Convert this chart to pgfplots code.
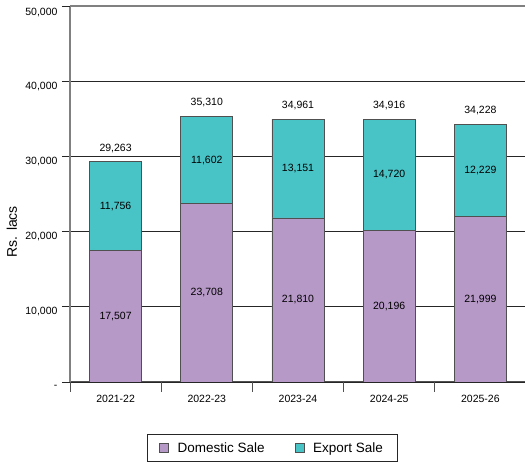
\documentclass[border=0pt]{standalone}
\usepackage{pgfplots}
\usepackage{pgfplotstable}
\pgfplotsset{compat=1.18}
\usepackage{fontspec}
\setmainfont{Liberation Sans}
\definecolor{dom}{HTML}{B799C8}
\definecolor{expc}{HTML}{48C3C6}
\definecolor{edge}{HTML}{505050}
\pgfplotstableread{
x dom exp
0 17507 11756
1 23708 11602
2 21810 13151
3 20196 14720
4 21999 12229
}\salesdata
\tikzset{lbl/.style={font=\fontsize{10.5}{12}\selectfont, text=black}}
\pgfplotsset{geom/.style={at={(0,0)}, anchor=south west,
  scale only axis, width=456pt, height=376pt,
  xmin=-0.5, xmax=4.5, ymin=0, ymax=50000}}
\begin{document}
\begin{tikzpicture}
\useasboundingbox (-70pt,-80pt) rectangle (455pt,382pt);
\begin{axis}[
  geom,
  ybar stacked, bar width=52pt,
  axis x line*=bottom, axis y line*=left,
  x axis line style={draw=edge, line width=1pt},
  y axis line style={draw=gray, line width=1.3pt},
  ymajorgrids, grid style={draw=black!85, line width=0.8pt},
  ytick={0,10000,20000,30000,40000},
  yticklabels={{-},{10,000},{20,000},{30,000},{40,000}},
  extra y ticks={50000}, extra y tick labels={50{,}000},
  extra y tick style={grid style={draw=gray, line width=2pt}, yticklabel style={yshift=-1.5pt}},
  xtick={0,1,2,3,4},
  xticklabels={2021-22,2022-23,2023-24,2024-25,2025-26},
  minor xtick={-0.5,0.5,1.5,2.5,3.5},
  tick align=outside, major tick length=8pt, minor tick length=10pt,
  major x tick style={draw=none},
  minor x tick style={draw=edge, line width=0.8pt},
  major y tick style={draw=black!85, line width=0.8pt},
  tick label style={font=\fontsize{10.5}{12}\selectfont, text=black},
  yticklabel style={xshift=-1pt, yshift=-5pt},
  xticklabel style={yshift=-2pt},
  ylabel={Rs. lacs},
  every axis y label/.style={at={(axis description cs:-0.1275,0.40)}, rotate=90, anchor=center, font=\fontsize{14}{16}\selectfont, text=black},
  legend columns=2,
  legend style={at={(0.443,-0.1755)}, anchor=center, draw=black!85, line width=0.8pt,
    font=\fontsize{13.5}{15}\selectfont, text=black, inner xsep=12pt, inner ysep=6pt,
    /tikz/every even column/.append style={column sep=28pt},
    /tikz/every odd column/.append style={column sep=7pt}},
  legend image code/.code={\draw[#1, line width=0.6pt] (0pt,-4.5pt) rectangle (9pt,4.5pt);},
]
\addplot[fill=dom, draw=edge, line width=0.9pt] table[x=x, y=dom] {\salesdata};
\addlegendentry{Domestic Sale}
\addplot[fill=expc, draw=edge, line width=0.9pt] table[x=x, y=exp] {\salesdata};
\addlegendentry{Export Sale}
\end{axis}
\begin{axis}[geom, hide axis]
\node[lbl] at (axis cs:0,8753) {17,507};
\node[lbl] at (axis cs:1,11854) {23,708};
\node[lbl] at (axis cs:2,10905) {21,810};
\node[lbl] at (axis cs:3,10098) {20,196};
\node[lbl] at (axis cs:4,11000) {21,999};
\node[lbl] at (axis cs:0,23385) {11,756};
\node[lbl] at (axis cs:1,29509) {11,602};
\node[lbl] at (axis cs:2,28386) {13,151};
\node[lbl] at (axis cs:3,27556) {14,720};
\node[lbl] at (axis cs:4,28114) {12,229};
\node[lbl, anchor=south, yshift=6pt] at (axis cs:0,29263) {29,263};
\node[lbl, anchor=south, yshift=6pt] at (axis cs:1,35310) {35,310};
\node[lbl, anchor=south, yshift=6pt] at (axis cs:2,34961) {34,961};
\node[lbl, anchor=south, yshift=6pt] at (axis cs:3,34916) {34,916};
\node[lbl, anchor=south, yshift=6pt] at (axis cs:4,34228) {34,228};
\end{axis}
\end{tikzpicture}
\end{document}
